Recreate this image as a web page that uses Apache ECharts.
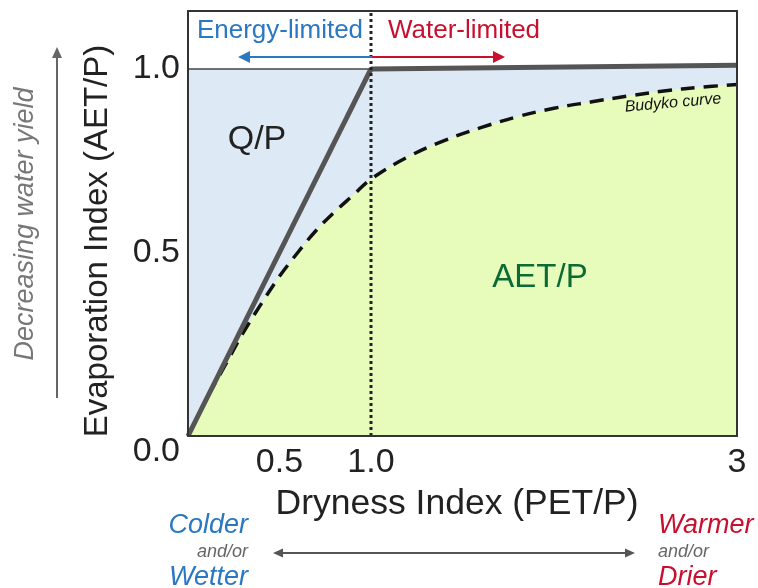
<!DOCTYPE html>
<html>
<head>
<meta charset="utf-8">
<script src="https://cdn.jsdelivr.net/npm/echarts@6/dist/echarts.min.js"></script>
<style>html,body{margin:0;padding:0;background:#fff}#c{width:758px;height:588px}</style>
</head>
<body>
<div id="c"></div>
<script>
// ---- data ----
const budykoX = [0, 0.1, 0.2, 0.3, 0.4, 0.5, 0.6, 0.7, 0.8, 0.9, 1.0, 1.2, 1.4, 1.6, 1.8, 2.0, 2.2, 2.4, 2.6, 2.8, 3.0];
const budykoY = [0, 0.10, 0.19, 0.28, 0.36, 0.435, 0.50, 0.56, 0.61, 0.655, 0.70, 0.76, 0.805, 0.84, 0.87, 0.893, 0.91, 0.926, 0.94, 0.95, 0.958];
const energyLimitX = [0, 1];      // supply limit line AET/P = PET/P
const energyLimitY = [0, 1];
const topThinX = [0, 1];
const topThinY = [1, 1];
const waterLimitX = [1, 3];       // AET/P ~ 1
const waterLimitY = [1, 1.01];
const dividerX = 1.0;
const xTickValues = [0.5, 1.0, 3];
const xTickLabels = ['0.5', '1.0', '3'];
const yTickValues = [0, 0.5, 1.0];
const yTickLabels = ['0.0', '0.5', '1.0'];
const xMin = 0, xMax = 3, yMin = 0, yMax = 1.158;

const zip = (xs, ys) => xs.map((x, i) => [x, ys[i]]);
const FONT = '"Liberation Sans", Arial, sans-serif';
const BLUE_FILL = '#dde9f5', GREEN_FILL = '#e7fcbb';

const chart = echarts.init(document.getElementById('c'), null, {renderer: 'canvas'});

function arrowHead(tip, dir, color, len, half) {
  const [tx, ty] = tip, [dx, dy] = dir;
  const bx = tx - dx * len, by = ty - dy * len;
  return {type: 'polygon', shape: {points: [[tx, ty], [bx - dy * half, by + dx * half], [bx + dy * half, by - dx * half]]}, style: {fill: color}, z: 100};
}
function line(x1, y1, x2, y2, color, w) {
  return {type: 'line', shape: {x1, y1, x2, y2}, style: {stroke: color, lineWidth: w}, z: 100};
}
function txt(x, y, text, o) {
  return {type: 'text', x, y, rotation: o.rotation || 0, z: 100,
    style: Object.assign({text, fontFamily: FONT, fill: '#222', align: 'center', verticalAlign: 'middle'}, o.style)};
}

const option = {
  animation: false,
  backgroundColor: '#fff',
  grid: {left: 188, right: 21, top: 11, bottom: 152, containLabel: false},
  xAxis: [{
    type: 'value', min: xMin, max: xMax, z: 10,
    axisLine: {show: true, onZero: false, lineStyle: {color: '#333', width: 2}},
    axisTick: {show: false}, splitLine: {show: false},
    axisLabel: {customValues: xTickValues, margin: 10, fontSize: 34, color: '#222', fontFamily: FONT,
      formatter: v => xTickLabels[xTickValues.indexOf(v)] || ''}
  }, {
    type: 'value', position: 'top', min: xMin, max: xMax, z: 10,
    axisLine: {show: true, onZero: false, lineStyle: {color: '#333', width: 2}},
    axisTick: {show: false}, splitLine: {show: false}, axisLabel: {show: false}
  }],
  yAxis: [{
    type: 'value', min: yMin, max: yMax, z: 10,
    axisLine: {show: true, onZero: false, lineStyle: {color: '#333', width: 2}},
    axisTick: {show: false}, splitLine: {show: false},
    axisLabel: {customValues: yTickValues, margin: 8, fontSize: 34, color: '#222', fontFamily: FONT,
      formatter: v => { const i = yTickValues.indexOf(v); if (i < 0) return ''; return v === 0 ? '{low|' + yTickLabels[i] + '}' : yTickLabels[i]; },
      rich: {low: {fontSize: 34, color: '#222', fontFamily: FONT, padding: [32, 0, 0, 0]}}}
  }, {
    type: 'value', position: 'right', min: yMin, max: yMax, z: 10,
    axisLine: {show: true, onZero: false, lineStyle: {color: '#333', width: 2}},
    axisTick: {show: false}, splitLine: {show: false}, axisLabel: {show: false}
  }],
  series: [
    {type: 'line', name: 'top', data: zip(topThinX, topThinY), showSymbol: false, symbol: 'none',
      lineStyle: {color: '#444', width: 1.5}, areaStyle: {color: BLUE_FILL, opacity: 1}, z: 2},
    {type: 'line', name: 'waterLimit', data: zip(waterLimitX, waterLimitY), showSymbol: false, symbol: 'none',
      lineStyle: {color: '#555', width: 5}, areaStyle: {color: BLUE_FILL, opacity: 1}, z: 3},
    {type: 'line', name: 'Budyko curve', data: zip(budykoX, budykoY), showSymbol: false, symbol: 'none',
      smooth: 0.4,
      lineStyle: {color: '#111', width: 3.5, type: [14, 9]}, areaStyle: {color: GREEN_FILL, opacity: 1}, z: 4},
    {type: 'line', name: 'energyLimit', data: zip(energyLimitX, energyLimitY), showSymbol: false, symbol: 'none',
      lineStyle: {color: '#555', width: 5}, z: 5},
    {type: 'line', name: 'divider', data: [[dividerX, yMin], [dividerX, yMax]], showSymbol: false, symbol: 'none',
      lineStyle: {color: '#222', width: 3, type: [3, 3]}, z: 6}
  ],
  graphic: [
    txt(280, 31, 'Energy-limited', {style: {fontSize: 26, fill: '#2b78c2'}}),
    txt(464, 31, 'Water-limited', {style: {fontSize: 26, fill: '#c8102e'}}),
    line(372, 57, 248, 57, '#2b78c2', 2),
    arrowHead([238, 57], [-1, 0], '#2b78c2', 12, 6),
    line(372, 57, 494, 57, '#c8102e', 2),
    arrowHead([505, 57], [1, 0], '#c8102e', 12, 6),
    txt(257, 140, 'Q/P', {style: {fontSize: 34}}),
    txt(540, 278, 'AET/P', {style: {fontSize: 33, fill: '#0b6b34'}}),
    txt(673, 103, 'Budyko curve', {rotation: 0.09, style: {fontSize: 16, fontStyle: 'italic', fill: '#111'}}),
    txt(457, 504, 'Dryness Index (PET/P)', {style: {fontSize: 35.5}}),
    txt(98, 241, 'Evaporation Index (AET/P)', {rotation: Math.PI / 2, style: {fontSize: 33}}),
    txt(25, 224, 'Decreasing water yield', {rotation: Math.PI / 2, style: {fontSize: 27, fontStyle: 'italic', fill: '#777'}}),
    line(57, 398, 57, 56, '#666', 2),
    arrowHead([57, 47], [0, -1], '#666', 11, 5),
    line(282, 553, 626, 553, '#555', 2),
    arrowHead([273, 553], [-1, 0], '#555', 10, 4.5),
    arrowHead([635, 553], [1, 0], '#555', 10, 4.5),
    txt(248, 525, 'Colder', {style: {fontSize: 27, fontStyle: 'italic', fill: '#2b78c2', align: 'right'}}),
    txt(248, 552, 'and/or', {style: {fontSize: 18, fontStyle: 'italic', fill: '#666', align: 'right'}}),
    txt(248, 577, 'Wetter', {style: {fontSize: 27, fontStyle: 'italic', fill: '#2b78c2', align: 'right'}}),
    txt(658, 525, 'Warmer', {style: {fontSize: 27, fontStyle: 'italic', fill: '#c8102e', align: 'left'}}),
    txt(658, 552, 'and/or', {style: {fontSize: 18, fontStyle: 'italic', fill: '#666', align: 'left'}}),
    txt(658, 577, 'Drier', {style: {fontSize: 27, fontStyle: 'italic', fill: '#c8102e', align: 'left'}})
  ]
};
chart.setOption(option);
</script>
</body>
</html>
